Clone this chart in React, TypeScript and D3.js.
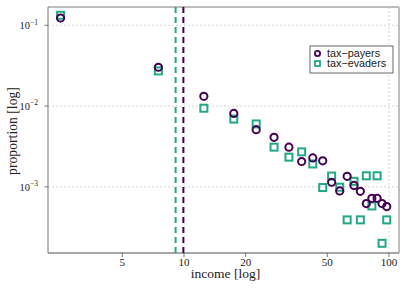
import * as d3 from 'd3';
import React, { useRef, useEffect } from 'react';

const W = 407;
const H = 288;
const margin = { top: 7, right: 8, bottom: 35, left: 48 };

// income bin centres
const income = [2.5, 7.5, 12.5, 17.5, 22.5, 27.5, 32.5, 37.5, 42.5, 47.5,
  52.5, 57.5, 62.5, 67.5, 72.5, 77.5, 82.5, 87.5, 92.5, 97.5];
const payers = [0.123, 0.0302, 0.0132, 0.0081, 0.0051, 0.0041, 0.0031, 0.00206, 0.00228, 0.0021,
  0.00114, 0.00089, 0.00135, 0.00104, 0.00088, 0.00062, 0.00072, 0.00072, 0.00062, 0.00057];
const evaders = [0.133, 0.0272, 0.0094, 0.0069, 0.006, 0.0031, 0.00233, 0.00271, 0.00192, 0.00098,
  0.00136, 0.00099, 0.00039, 0.00117, 0.00039, 0.00137, 0.00058, 0.00137, 0.0002, 0.00039];
// mean income lines
const payersMean = 9.93;
const evadersMean = 9.1;

const xTicks = [5, 10, 20, 50, 100];
const xGrid = [10, 100];
const yTicks = [1e-1, 1e-2, 1e-3];
const yTickExp = ['\u22121', '\u22122', '\u22123'];

const purple = '#440154';
const green = '#22a884';

const App = () => {
  const svgRef = useRef<SVGSVGElement>(null);

  useEffect(() => {
    const svg = d3.select(svgRef.current);
    svg.selectAll('*').remove();

    const x = d3.scaleLog().domain([2.171, 111.9]).range([margin.left, W - margin.right]);
    const y = d3.scaleLog().domain([0.0001517, 0.1683]).range([H - margin.bottom, margin.top]);
    const [x0, x1] = x.range();
    const [y0, y1] = y.range();

    // grid
    svg.append('g').selectAll('line').data(yTicks).join('line')
      .attr('x1', x0).attr('x2', x1)
      .attr('y1', d => y(d)).attr('y2', d => y(d))
      .attr('stroke', '#d8d8d8').attr('stroke-dasharray', '2,2');
    svg.append('g').selectAll('line').data(xGrid).join('line')
      .attr('x1', d => x(d)).attr('x2', d => x(d))
      .attr('y1', y1).attr('y2', y0)
      .attr('stroke', '#d8d8d8').attr('stroke-dasharray', '2,2');

    // frame
    svg.append('line').attr('x1', x0).attr('x2', x1).attr('y1', y1).attr('y2', y1)
      .attr('stroke', '#bdbdbd').attr('stroke-width', 2);
    svg.append('line').attr('x1', x1).attr('x2', x1).attr('y1', y1).attr('y2', y0)
      .attr('stroke', '#bdbdbd').attr('stroke-width', 2);
    svg.append('line').attr('x1', x0).attr('x2', x1).attr('y1', y0).attr('y2', y0)
      .attr('stroke', '#888').attr('stroke-width', 1.5);
    svg.append('line').attr('x1', x0).attr('x2', x0).attr('y1', y1).attr('y2', y0)
      .attr('stroke', '#777').attr('stroke-width', 1);

    // x ticks
    const xt = svg.append('g');
    xt.selectAll('line').data(xTicks).join('line')
      .attr('x1', d => x(d)).attr('x2', d => x(d))
      .attr('y1', y0).attr('y2', y0 + 4)
      .attr('stroke', '#777');
    xt.selectAll('text').data(xTicks).join('text')
      .attr('x', d => x(d)).attr('y', y0 + 13)
      .attr('text-anchor', 'middle')
      .style('font-family', '"Liberation Serif", serif').style('font-size', '11px')
      .attr('fill', '#222')
      .text(d => d);

    // y ticks
    const yt = svg.append('g');
    yt.selectAll('line').data(yTicks).join('line')
      .attr('x1', x0 - 3.5).attr('x2', x0)
      .attr('y1', d => y(d)).attr('y2', d => y(d))
      .attr('stroke', '#777');
    const lab = yt.selectAll('text').data(yTicks).join('text')
      .attr('x', x0 - 10).attr('y', d => y(d) + 3.8)
      .attr('text-anchor', 'end')
      .style('font-family', '"Liberation Serif", serif').style('font-size', '10.5px')
      .attr('fill', '#222');
    lab.append('tspan').text('10');
    lab.append('tspan').attr('dy', -4.5).style('font-size', '7.5px').text((_, i) => yTickExp[i]);

    // axis titles
    svg.append('text')
      .attr('x', (x0 + x1) / 2 + 2).attr('y', 277.5)
      .attr('text-anchor', 'middle')
      .style('font-family', '"Liberation Serif", serif').style('font-size', '13.5px')
      .attr('fill', '#222')
      .text('income [log]');
    svg.append('text')
      .attr('transform', `translate(17,${(y0 + y1) / 2 + 1}) rotate(-90)`)
      .attr('text-anchor', 'middle')
      .style('font-family', '"Liberation Serif", serif').style('font-size', '13.7px')
      .attr('fill', '#222')
      .text('proportion [log]');

    // mean lines
    svg.append('line')
      .attr('x1', x(evadersMean)).attr('x2', x(evadersMean)).attr('y1', y1).attr('y2', y0)
      .attr('stroke', green).attr('stroke-width', 2).attr('stroke-dasharray', '6,4');
    svg.append('line')
      .attr('x1', x(payersMean)).attr('x2', x(payersMean)).attr('y1', y1).attr('y2', y0)
      .attr('stroke', purple).attr('stroke-width', 2).attr('stroke-dasharray', '6,4');

    // evaders squares
    const s = 7;
    svg.append('g').selectAll('rect').data(evaders).join('rect')
      .attr('x', (_, i) => x(income[i]) - s / 2)
      .attr('y', d => y(d) - s / 2)
      .attr('width', s).attr('height', s)
      .attr('fill', 'none').attr('stroke', green).attr('stroke-width', 2);

    // payers circles
    svg.append('g').selectAll('circle').data(payers).join('circle')
      .attr('cx', (_, i) => x(income[i]))
      .attr('cy', d => y(d))
      .attr('r', 3.6)
      .attr('fill', 'none').attr('stroke', purple).attr('stroke-width', 2);

    // legend
    const lg = svg.append('g').attr('transform', 'translate(310,46)');
    lg.append('rect').attr('width', 83).attr('height', 27)
      .attr('fill', 'white').attr('stroke', '#666').attr('stroke-width', 1);
    lg.append('circle').attr('cx', 7.5).attr('cy', 7.5).attr('r', 2.6)
      .attr('fill', 'none').attr('stroke', purple).attr('stroke-width', 1.8);
    lg.append('rect').attr('x', 5).attr('y', 15).attr('width', 5).attr('height', 5)
      .attr('fill', 'none').attr('stroke', green).attr('stroke-width', 1.8);
    lg.selectAll('text').data(['tax\u2212payers', 'tax\u2212evaders']).join('text')
      .attr('x', 17).attr('y', (_, i) => 11.3 + i * 10)
      .style('font-family', '"Liberation Sans", Arial, sans-serif').style('font-size', '10.8px')
      .attr('fill', '#222')
      .text(d => d);
  }, []);

  return (
    <svg ref={svgRef} width={W} height={H}
      style={{ position: 'absolute', left: 0, top: 0, background: 'white' }} />
  );
};

export default App;
